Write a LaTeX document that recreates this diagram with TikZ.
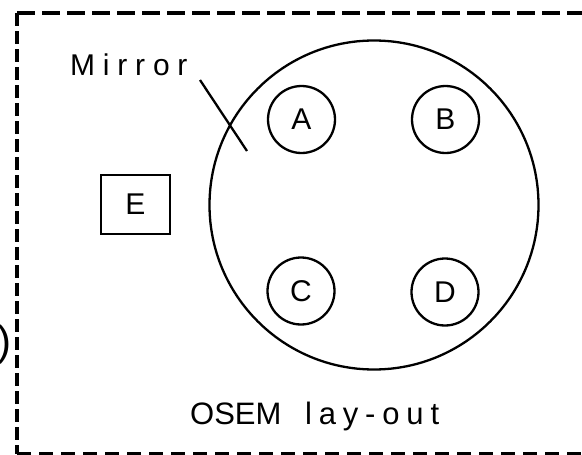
\documentclass[tikz,border=0pt]{standalone}
\usepackage{fontspec}
\setmainfont{Liberation Sans}
\begin{document}
\begin{tikzpicture}[x=1pt,y=-1pt,
  lbl/.style={font=\fontsize{30}{34}\selectfont, inner sep=0pt},
  pad/.style={circle, draw, line width=2.3pt, minimum size=67pt, inner sep=0pt, font=\fontsize{30}{34}\selectfont},
  bord/.style={line width=3.4pt}]
\useasboundingbox (0,0) rectangle (582,455);
% dashed frame
\draw[bord, dash pattern=on 18pt off 7pt] (17,13) -- (600,13);
\draw[bord, dash pattern=on 13pt off 5pt] (17,13) -- (17,454);
\draw[bord, dash pattern=on 14pt off 8pt] (17,454) -- (600,454);
% mirror
\node[circle, draw, line width=2.3pt, minimum size=329pt, inner sep=0pt] (mirror) at (374,205) {};
\node[pad] (A) at (301.5,119.5) {A};
\node[pad] (B) at (445.5,119.5) {B};
\node[pad] (C) at (301,291) {C};
\node[pad] (D) at (445,292) {D};
\node[draw, line width=2.3pt, minimum width=69pt, minimum height=59pt, inner sep=0pt, font=\fontsize{30}{34}\selectfont] (E) at (135.5,204.5) {E};
\node[lbl, anchor=base west, font=\fontsize{30}{34}\selectfont\addfontfeature{LetterSpace=26}] (mlabel) at (70,75) {Mirror};
\coordinate (ms) at (200,80);
\coordinate (me) at (247,151);
\draw[line width=2.3pt] (ms) -- (me);
\node[lbl, anchor=base west, font=\fontsize{31}{34}\selectfont] (osem) at (190,424) {OSEM};
\node[lbl, anchor=base west, font=\fontsize{31}{34}\selectfont\addfontfeature{LetterSpace=22}] (layout) at (305,424) {lay-out};
\node[lbl, anchor=east, font=\fontsize{42}{46}\selectfont] (paren) at (11.5,345) {)};
\end{tikzpicture}
\end{document}
